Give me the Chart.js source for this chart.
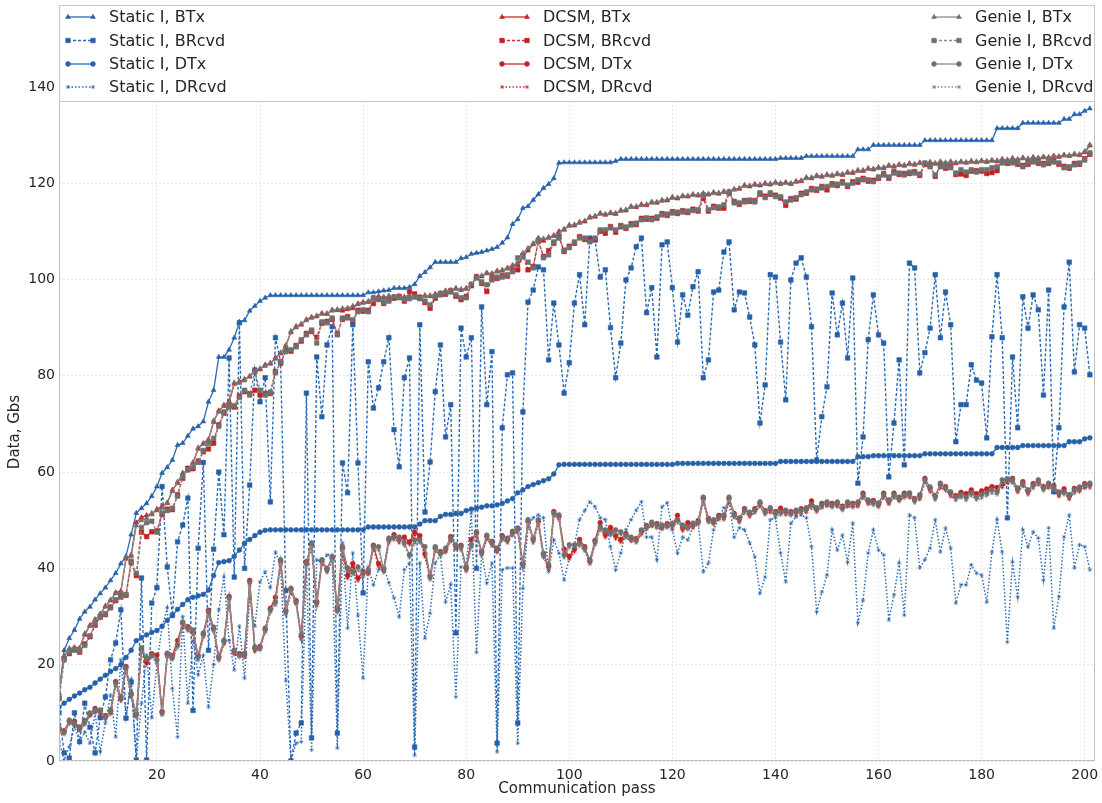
<!DOCTYPE html>
<html>
<head>
<meta charset="utf-8">
<title>Data per communication pass</title>
<script src="https://cdn.jsdelivr.net/npm/chart.js@4.4.0/dist/chart.umd.min.js"></script>
<style>
  html, body { margin: 0; padding: 0; background: #fff; }
  #wrap { width: 1102px; height: 803px; }
</style>
</head>
<body>
<div id="wrap"><canvas id="passChart" width="1102" height="803"></canvas></div>
<script>
// x: communication pass 1..201
const passes = Array.from({ length: 201 }, (_, i) => i + 1);
const xTickValues = [20, 40, 60, 80, 100, 120, 140, 160, 180, 200];
const yTickValues = [0, 20, 40, 60, 80, 100, 120, 140];

const groupNames = ["Static I", "DCSM", "Genie I"];
const kindNames = ["BTx", "BRcvd", "DTx", "DRcvd"];

// Static I
const staticBTx = [
  14, 23, 25.5, 27.2, 29.5, 31, 32, 33.5, 34.8, 36,
  37.5, 39, 41, 42.5, 47, 51.5, 52.5, 53.5, 55, 57,
  59.8, 61, 62.5, 65.6, 66, 67.5, 69, 69.5, 70.5, 74.6,
  77, 83.9, 83.9, 85.4, 87.9, 91.2, 91.5, 93.5, 94.5, 95.5,
  96.2, 96.7, 96.7, 96.7, 96.7, 96.7, 96.7, 96.7, 96.7, 96.7,
  96.7, 96.7, 96.7, 96.7, 96.7, 96.7, 96.7, 96.7, 96.7, 96.7,
  97.3, 97.3, 97.5, 97.7, 97.8, 98.2, 98.2, 98.2, 98.4, 99,
  100.7, 101.5, 102.5, 103.6, 103.6, 103.6, 103.6, 103.6, 104.4, 104.6,
  105.3, 105.5, 105.7, 106, 106.3, 106.7, 107.6, 108.7, 111.5, 112.5,
  114.8, 115.2, 116.5, 117.7, 119, 119.8, 121, 124.2, 124.3, 124.3,
  124.3, 124.3, 124.3, 124.3, 124.3, 124.3, 124.3, 124.3, 124.6, 125,
  125, 125, 125, 125, 125, 125, 125, 125, 125, 125,
  125, 125, 125, 125, 125, 125, 125, 125, 125, 125,
  125, 125, 125, 125, 125, 125, 125, 125, 125, 125,
  125.2, 125.2, 125.2, 125.2, 125.2, 125.6, 125.6, 125.6, 125.6, 125.6,
  125.6, 125.6, 125.6, 125.6, 125.6, 127, 127, 127, 127.9, 127.9,
  127.9, 127.9, 127.9, 127.9, 127.9, 127.9, 127.9, 127.9, 128.9, 128.9,
  128.9, 128.9, 128.9, 128.9, 128.9, 128.9, 128.9, 128.9, 128.9, 128.9,
  128.9, 128.9, 131.4, 131.4, 131.4, 131.4, 131.4, 132.5, 132.5, 132.5,
  132.5, 132.5, 132.5, 132.5, 132.5, 133.3, 133.3, 134.3, 134.3, 135,
  135.5
];
const staticBRcvd = [
  10, 1.7, 0.6, 10, 4, 12, 7, 1.7, 9, 13.3,
  21, 24.5, 31.4, 8.9, 16.4, 0.2, 38, 0.2, 32.8, 36,
  57, 40.3, 30.3, 45.5, 49, 54.6, 10.5, 44.2, 62, 23,
  44, 60, 47, 83.7, 38.2, 91, 40, 57.3, 81.2, 74.6,
  79.6, 53.8, 87.9, 82.9, 35.4, 0, 5.8, 7.9, 76.4, 4.8,
  83.9, 71.5, 86.4, 90.2, 5.8, 61.9, 55.7, 90.6, 61.9, 34.9,
  82.9, 73.3, 77.5, 82.9, 87.9, 68.8, 61.1, 79.6, 83.7, 2.9,
  90.6, 51.7, 62.1, 76.7, 86.4, 67.3, 74, 26.6, 89.9, 83.9,
  87.9, 40, 94.3, 74, 85, 3.7, 69.2, 80.2, 80.6, 7.9,
  72.5, 95.3, 97.8, 102.6, 102, 83.3, 95.1, 86.4, 76.4, 82.7,
  95.1, 101, 90.6, 108.6, 108.2, 100.5, 102, 90, 79.6, 86.8,
  99.9, 102.4, 106.8, 108.6, 93.1, 98.3, 83.9, 107.2, 107.8, 98.3,
  87, 96.8, 92.6, 98.5, 101.6, 79.6, 83.3, 97.4, 97.8, 105.7,
  107.8, 93.7, 97.4, 97.2, 92.2, 86.4, 70.2, 78.1, 101, 100.5,
  87, 75, 99.9, 103.4, 104.5, 100.5, 90.2, 62.5, 71.5, 77.7,
  97.2, 88.5, 95.1, 83.7, 100.3, 57.7, 67.3, 87.5, 96.8, 88.5,
  86.8, 59, 70.2, 83.3, 61.5, 103.4, 102.4, 80.6, 84.8, 89.9,
  101, 87.9, 97.4, 90.6, 66.3, 74, 74, 82.3, 79.1, 78.5,
  67.1, 88.1, 101, 87.9, 50.5, 83.9, 69.2, 96.4, 89.9, 96.8,
  93.7, 76, 97.8, 55.9, 69.2, 94.3, 103.6, 80.8, 90.6, 89.9,
  80.2
];
const staticDTx = [
  11.2, 12, 12.8, 13.5, 14.1, 14.8, 15.3, 16.2, 17, 17.8,
  18.6, 19.2, 20, 21.5, 23, 25, 25.6, 26.2, 26.7, 27.1,
  28, 29.2, 30.2, 31.5, 32.5, 33.5, 34, 34.3, 34.6, 35.5,
  38.5, 41.2, 41.4, 41.6, 42.5, 43.8, 45.2, 46, 46.8, 47.5,
  47.9, 48, 48, 48, 48, 48, 48, 48, 48, 48,
  48, 48, 48, 48, 48, 48, 48, 48, 48, 48,
  48.6, 48.6, 48.6, 48.6, 48.6, 48.6, 48.6, 48.6, 48.6, 48.6,
  49.2, 49.9, 49.9, 49.9, 50.8, 51.2, 51.2, 51.4, 51.4, 52,
  52.3, 52.5, 52.7, 53, 53, 53.2, 53.5, 54, 54.5, 55.7,
  56.3, 57, 57.4, 57.8, 58.2, 58.6, 59.6, 61.5, 61.6, 61.6,
  61.6, 61.6, 61.6, 61.6, 61.6, 61.6, 61.6, 61.6, 61.6, 61.6,
  61.6, 61.6, 61.6, 61.6, 61.6, 61.6, 61.6, 61.6, 61.6, 61.6,
  61.8, 61.8, 61.8, 61.8, 61.8, 61.8, 61.8, 61.8, 61.8, 61.8,
  61.8, 61.8, 61.8, 61.8, 61.8, 61.8, 61.8, 61.8, 61.8, 61.8,
  62.2, 62.2, 62.2, 62.2, 62.2, 62.2, 62.2, 62.2, 62.2, 62.2,
  62.2, 62.2, 62.2, 62.2, 62.2, 63.2, 63.2, 63.2, 63.4, 63.4,
  63.4, 63.4, 63.4, 63.4, 63.4, 63.4, 63.4, 63.4, 63.8, 63.8,
  63.8, 63.8, 63.8, 63.8, 63.8, 63.8, 63.8, 63.8, 63.8, 63.8,
  63.8, 63.8, 65.1, 65.1, 65.1, 65.1, 65.1, 65.5, 65.5, 65.5,
  65.5, 65.5, 65.5, 65.5, 65.5, 65.5, 66.3, 66.3, 66.3, 66.9,
  67.1
];
const staticDRcvd = [
  4, 0.2, 3, 7.1, 4, 6, 3.7, 10, 2, 7.9,
  13.7, 5, 21, 9.1, 17, 0.2, 12, 22, 9, 20.3,
  27.8, 31.8, 15, 5, 30, 12, 25, 18, 22, 11.2,
  20, 31.4, 38.2, 25, 18.9, 28, 17.2, 33.9, 28, 37.2,
  39.3, 36, 43.4, 40.7, 16.8, 0.2, 3.7, 4, 41.3, 2.3,
  41.8, 41.3, 42.8, 42.8, 2.7, 45.3, 27.6, 43.2, 30.3, 17.2,
  40.1, 36.6, 39.7, 40.3, 37, 33.9, 29.9, 39.7, 41.1, 1.2,
  41.1, 25.5, 30.7, 41.1, 42.8, 33, 36.6, 13.3, 40.3, 40.3,
  51.5, 22.6, 43.2, 37, 41.1, 1.9, 39.7, 40.1, 40.1, 3.7,
  35.9, 48.6, 50.5, 51.1, 50.5, 39.3, 45.9, 43.2, 37.6, 42.2,
  44.9, 50.1, 52, 53.8, 52.8, 50.5, 50.1, 44.5, 39.7, 43.2,
  48, 50.1, 52.1, 53.8, 46.5, 46.5, 41.8, 52.8, 53.6, 48,
  43.2, 46.5, 45.9, 48.6, 49.6, 39.3, 41.1, 48, 50.5, 52.6,
  53.6, 46.5, 48.4, 48, 45.3, 42.4, 34.9, 38.2, 50.1, 50.5,
  43.2, 37.2, 49.4, 50.7, 51.1, 50.5, 44.5, 31, 35.1, 38.6,
  48, 43.8, 46.9, 41.3, 49.4, 28.7, 33.4, 43.2, 48, 43.8,
  42.8, 29.3, 34.5, 41.1, 30.3, 51.1, 50.5, 40.1, 41.8, 44.2,
  50.1, 43.4, 48.4, 44.2, 32.8, 36.6, 36.6, 40.7, 39, 38.6,
  33, 43.4, 50.1, 43.4, 24.7, 41.3, 34.1, 48, 44.5, 47.6,
  46.3, 37.6, 48.4, 27.6, 34.1, 46.5, 51.1, 40.1, 44.9, 44.5,
  39.7
];

// DCSM
const dcsmBTx = [
  14, 21.8, 23.2, 23.6, 23.5, 26.2, 28.2, 29.4, 30.4, 32.2,
  33.3, 35, 35.3, 42, 42.8, 49.5, 50.6, 51, 51.2, 52.3,
  52.9, 53.5, 56.3, 57.7, 59.8, 60.3, 62, 64.8, 66, 66.8,
  70.4, 72.8, 73.7, 74.7, 78.3, 78.8, 79.3, 79.8, 81.2, 81.3,
  82.3, 82.5, 83.8, 84.6, 86.3, 89, 90.3, 90.6, 91.7, 92.2,
  92.3, 93, 92.8, 93.7, 93.6, 93.5, 93.8, 94, 95, 95.3,
  95.3, 96, 96.5, 96.2, 96.6, 96.3, 96.5, 96.3, 96.6, 96.4,
  96.3, 96.7, 96.5, 97, 97, 97.7, 97.6, 98.2, 97.8, 98.2,
  98.8, 100.5, 100.6, 101.4, 101.1, 101.8, 101.8, 102.4, 102.8, 103,
  104.8, 106, 107.3, 108.6, 108, 108.8, 109, 110, 110.3, 111.3,
  111.2, 111.9, 112, 113, 113, 113.8, 113.4, 113.9, 113.6, 114.4,
  114.3, 115.2, 115, 115.6, 115.4, 116.1, 115.9, 116.5, 116.4, 117.1,
  116.8, 117.4, 117.2, 117.7, 117.4, 117.9, 117.6, 118.1, 117.8, 118.3,
  118.1, 118.8, 118.8, 119.6, 119.3, 119.8, 119.5, 120, 119.7, 120.2,
  119.8, 120.2, 119.8, 120.4, 120.4, 121.2, 121, 121.6, 121.3, 121.8,
  121.5, 122, 121.7, 122.3, 122.1, 122.7, 122.5, 123.1, 122.8, 123.3,
  123.1, 123.7, 123.4, 123.9, 123.6, 124.1, 123.8, 124.3, 123.9, 124.4,
  124, 124.5, 124.1, 124.5, 124.1, 124.5, 124.2, 124.6, 124.3, 124.7,
  124.4, 124.8, 124.5, 125, 124.7, 125.2, 124.8, 125.3, 124.9, 125.4,
  125.1, 125.5, 125.2, 125.7, 125.4, 125.9, 125.6, 126.1, 125.8, 126.4,
  127.8
];
const dcsmBRcvd = [
  13, 21.3, 22.3, 23.2, 22.6, 24.3, 25.8, 28.2, 30, 30.4,
  32, 33.3, 34.3, 34.4, 41.2, 38.5, 47.5, 46.6, 47.6, 47.8,
  51.2, 52.3, 52.2, 55.3, 58.7, 60.8, 60.7, 62.3, 64.2, 64.8,
  66, 69.8, 72.2, 73.8, 73.5, 75.8, 76.7, 76.3, 77, 76,
  76.3, 76.3, 80.9, 82.6, 85.3, 85.1, 86.3, 87.2, 88.8, 89.2,
  88, 90.9, 91.3, 91.7, 88.8, 91.7, 92.3, 91.3, 93.6, 93.4,
  93.6, 95, 96.1, 95, 95.8, 96.1, 96.5, 95.5, 97.5, 97,
  96.3, 95.2, 94, 96.1, 97.1, 96.9, 97.7, 96.5, 95.8, 96.5,
  98.7, 100.6, 99.2, 97.5, 100.2, 100.2, 100.8, 100.7, 101.9, 102,
  105, 102, 102.7, 107.9, 104.8, 106, 107.5, 108.9, 105.8, 106.9,
  107.5, 108.9, 108.3, 108.1, 108.3, 110, 109.6, 111, 109.8, 111.2,
  110.6, 111.6, 111.4, 112.7, 112.5, 112.7, 112.7, 113.7, 113.3, 114.1,
  113.7, 114.3, 113.9, 114.6, 114.2, 116.8, 114.2, 115.2, 114.8, 114.8,
  117.9, 116.2, 115.6, 116.4, 116.2, 116.4, 117.7, 117.3, 117.7, 117.5,
  116.9, 115.4, 116.8, 116.7, 117.9, 117.9, 118.9, 118.5, 119.3, 118.6,
  119.9, 119.5, 120.3, 119.3, 120.3, 120.2, 121, 120.4, 120.6, 121,
  122, 121, 122.4, 121.8, 122, 122, 122.4, 121.6, 123.9, 123.7,
  121.4, 123.7, 123.1, 123.5, 121.8, 121.9, 121.6, 122.5, 122.6, 122.5,
  122, 122.2, 122.6, 124.5, 124.1, 124.5, 123.9, 123.7, 123.9, 124.7,
  124.1, 124.1, 124.1, 124.7, 123.9, 123.5, 123.1, 124.1, 123.9, 125.1,
  126
];
const dcsmDTx = [
  6.6, 6.3, 8.2, 8.2, 6.8, 8.4, 9.7, 10.9, 10.3, 9.4,
  10.3, 16.5, 13, 19.6, 13.8, 9.9, 23.2, 20.5, 22.3, 22,
  10.3, 22.1, 21.9, 25, 28.6, 27.9, 26.9, 21.9, 26.3, 31.3,
  27.5, 21.7, 24.8, 34.2, 22.7, 22.3, 22.1, 37.5, 23.4, 23.8,
  27.3, 31.7, 34, 41.5, 31.3, 35.6, 33.3, 25.9, 41.4, 45,
  33.1, 41.5, 40, 42.1, 31.7, 44.2, 38.5, 41, 38, 39.3,
  39.4, 44.8, 41, 40, 46, 47, 46, 46.5, 45.5, 47.5,
  46.8, 43, 38.5, 44.2, 43.5, 43.9, 46.6, 44.6, 44.8, 40,
  46, 47.3, 43.5, 46.6, 45.6, 43.9, 46.8, 46, 47.7, 48.1,
  41, 49.8, 46.2, 49.8, 43.1, 40.4, 51.8, 50.8, 44, 42.5,
  44, 46, 44.5, 41.5, 45.8, 49.5, 47, 48.5, 46.8, 46,
  47.2, 46.2, 46.2, 47.7, 48.9, 49.3, 49.3, 48.7, 49.3, 49.1,
  51, 48.4, 49.5, 49.1, 49.9, 54.5, 50.4, 49.8, 51, 50.8,
  54.5, 51.4, 50.2, 52.4, 51.4, 52.4, 53.5, 52, 52.3, 51.8,
  52.5, 51.8, 51.8, 51.8, 52.4, 52.3, 54, 52.3, 53.5, 53.5,
  53.5, 53.5, 52.9, 53.5, 53.5, 53.5, 55.6, 53.9, 54.1, 53.3,
  55.6, 53.9, 55.6, 54.5, 55.6, 55.4, 54.5, 55, 58.7, 56.6,
  55.1, 57.4, 57, 55.6, 55.1, 55.8, 55.5, 56.3, 55.5, 56.1,
  56.5, 57, 56.8, 57.5, 58.3, 58.7, 56.4, 58, 56, 57.6,
  58.1, 57, 57.4, 57.2, 55.6, 56.5, 55, 56.6, 56.6, 57.6,
  57.4
];
const dcsmDRcvd = [
  6, 5.8, 7.7, 7.7, 6.3, 7.8, 9.3, 10.4, 9.7, 8.9,
  9.7, 15.8, 12.5, 18.9, 13.2, 9.3, 22.5, 20, 21.8, 21.3,
  9.8, 21.5, 21.3, 24.4, 27.9, 27.3, 26.2, 21.3, 25.7, 30.6,
  26.9, 21.1, 24.2, 33.5, 22.1, 21.8, 21.5, 36.8, 22.7, 23.3,
  26.7, 31.1, 33.4, 40.7, 30.7, 34.9, 32.8, 25.3, 40.8, 44.3,
  32.5, 40.9, 39.4, 41.5, 31.1, 43.5, 37.9, 40.4, 37.4, 38.7,
  38.8, 44.2, 40.4, 39.4, 45.3, 46.4, 45.3, 45.9, 44.9, 46.9,
  46.1, 42.4, 37.9, 43.6, 42.9, 43.3, 45.9, 44, 44.2, 39.4,
  45.3, 46.6, 42.9, 46, 44.9, 43.3, 46.1, 45.3, 47.1, 47.5,
  40.4, 49.2, 45.6, 49.1, 42.5, 39.8, 51.1, 50.2, 43.4, 41.9,
  43.4, 45.3, 43.9, 40.9, 45.2, 48.8, 46.4, 47.9, 46.1, 45.4,
  46.6, 45.6, 45.6, 47, 48.3, 48.7, 48.6, 48.1, 48.7, 48.4,
  50.4, 47.8, 48.9, 48.4, 49.3, 53.8, 49.8, 49.1, 50.4, 50.1,
  53.8, 50.8, 49.5, 51.8, 50.7, 51.8, 52.8, 51.4, 51.6, 51.2,
  51.8, 51.1, 51.2, 51.1, 51.8, 51.6, 53.3, 51.7, 52.8, 52.9,
  52.8, 52.8, 52.3, 52.8, 52.9, 52.8, 54.9, 53.3, 53.4, 52.7,
  54.9, 53.3, 54.9, 53.9, 54.9, 54.7, 53.9, 54.3, 58, 55.9,
  54.5, 56.7, 56.4, 54.9, 54.5, 55.1, 54.9, 55.6, 54.9, 55.4,
  55.8, 56.4, 56.1, 56.8, 57.7, 58, 55.8, 57.3, 55.3, 57,
  57.4, 56.4, 56.7, 56.6, 54.9, 55.9, 54.3, 56, 55.9, 56.9,
  56.7
];

// Genie I
const genieBTx = [
  14, 21.6, 23.4, 23.4, 23.4, 26.5, 28, 29.2, 30.6, 32,
  33.5, 34.8, 35, 42.3, 42.5, 48.9, 50, 50.4, 51.5, 52,
  52.6, 53.7, 56, 58, 59.5, 60.5, 61.8, 65.1, 65.8, 66.5,
  70.7, 72.5, 74, 74.4, 78.6, 78.5, 79, 80, 81, 81.5,
  82, 82.7, 83.5, 84.8, 86, 89.3, 90, 90.8, 91.5, 92,
  92.5, 92.8, 93, 93.5, 93.8, 94, 94.1, 94.5, 94.8, 95.1,
  95.5, 96.2, 96.3, 96.4, 96.4, 96.4, 96.4, 96.4, 96.4, 96.2,
  96.4, 96.5, 96.7, 96.8, 97.2, 97.5, 97.8, 98, 98, 98,
  99, 100.3, 100.8, 101.2, 101.3, 101.6, 102, 102.2, 103, 103.4,
  105.5, 106.5, 107.5, 108.4, 108.5, 108.6, 109.2, 109.6, 110.5, 111.1,
  111.4, 111.7, 112.2, 112.8, 113.2, 113.6, 113.6, 113.7, 113.8, 114.2,
  114.5, 115, 115.2, 115.4, 115.6, 115.9, 116.1, 116.3, 116.6, 116.9,
  117, 117.2, 117.4, 117.5, 117.6, 117.7, 117.8, 117.9, 118, 118.1,
  118.3, 118.6, 119, 119.4, 119.5, 119.6, 119.7, 119.8, 119.9, 120,
  120, 120, 120, 120.2, 120.6, 121, 121.2, 121.4, 121.5, 121.6,
  121.7, 121.8, 121.9, 122.1, 122.3, 122.5, 122.7, 122.9, 123, 123.1,
  123.3, 123.5, 123.6, 123.7, 123.8, 123.9, 124, 124.1, 124.1, 124.2,
  124.2, 124.3, 124.3, 124.3, 124.3, 124.3, 124.4, 124.4, 124.5, 124.5,
  124.6, 124.6, 124.7, 124.8, 124.9, 125, 125, 125.1, 125.1, 125.2,
  125.3, 125.3, 125.4, 125.5, 125.6, 125.7, 125.8, 125.9, 126, 126.6,
  128
];
const genieBRcvd = [
  13, 21, 22.6, 23, 22.8, 24, 26, 28.5, 29.8, 30.6,
  31.8, 33.5, 34, 34.6, 41.5, 39, 48.5, 49.5, 49.8, 47.5,
  51.5, 52, 52.5, 55, 59, 60.5, 61, 62, 64.5, 66,
  67, 69.5, 72.5, 73.5, 73.8, 75.5, 77, 76, 80.8, 77,
  76, 76.6, 80.6, 82.9, 85, 85.4, 86, 87.5, 88.5, 89.5,
  86.8, 91.2, 91, 92, 88.5, 92, 92, 91.6, 93.3, 93.7,
  93.3, 96.2, 95.8, 95.3, 95.5, 96.4, 96.2, 95.8, 96, 96.4,
  96, 95.5, 94.7, 96.4, 96.8, 97.2, 97.4, 96.8, 96.2, 96.2,
  99, 100.3, 99.5, 98.9, 99.9, 100.5, 100.5, 101, 101.6, 104.5,
  104.7, 103.6, 102.4, 108.2, 104.5, 105.1, 107.8, 108.6, 106.1, 106.6,
  107.8, 108.6, 108.6, 107.8, 108.6, 110.3, 110.3, 110.7, 110.3, 110.9,
  110.9, 111.3, 111.7, 112.4, 112.8, 112.4, 113, 113.4, 113.6, 113.8,
  114, 114, 114.2, 114.3, 114.5, 117.6, 114.5, 114.9, 115.1, 115.5,
  118.2, 115.9, 115.9, 116.1, 116.5, 116.1, 118, 117, 118, 117.2,
  117.2, 116.1, 116.5, 117, 117.6, 118.2, 118.6, 118.8, 119, 119.3,
  119.6, 119.8, 120, 119.6, 120, 120.7, 120.7, 120.7, 120.3, 121.3,
  121.7, 121.3, 122.1, 122.1, 121.7, 122.3, 122.1, 121.9, 124.2, 123.4,
  121.7, 123.4, 123.4, 123.2, 122.1, 122.8, 122.3, 122.8, 122.3, 122.8,
  122.8, 123.2, 123.4, 124.2, 124.4, 124.2, 124.2, 123.4, 124.2, 124.4,
  124.4, 123.8, 124.4, 124.4, 124.2, 123.2, 123.4, 123.8, 124.2, 124.8,
  126.3
];
const genieDTx = [
  6.9, 6, 8.5, 7.9, 7.1, 8.1, 10, 10.6, 10.6, 9.1,
  10.6, 16.2, 13.3, 19.3, 14.1, 9.6, 23.5, 21.4, 22, 21,
  10, 22.4, 21.6, 24.1, 28.9, 27.6, 27.2, 21.6, 26.6, 31,
  27.8, 21.4, 25.1, 33.9, 23, 22, 22.4, 37.2, 23.7, 23.5,
  27.6, 31.4, 33, 41.8, 31, 35.9, 33, 26.2, 41.1, 45.3,
  32.8, 41.8, 39.7, 42.4, 31.4, 44.5, 40.1, 39.3, 40.3, 39,
  39.7, 44.5, 44.5, 39.7, 46.3, 46.5, 46.5, 45.3, 42.8, 45.9,
  45.9, 44.5, 38.2, 44.5, 43.2, 44.2, 46.3, 44.9, 44.5, 40.3,
  44.9, 47.6, 43.2, 46.9, 45.3, 44.2, 46.5, 46.3, 47.4, 48.4,
  40.7, 50.1, 45.9, 50.1, 42.8, 40.7, 51.5, 51.1, 42.8, 44.9,
  44.9, 45.3, 44.2, 41.8, 45.5, 48.6, 48, 47.4, 48, 47.6,
  46.9, 46.5, 45.9, 48, 48.6, 49.6, 49, 49, 49, 49.4,
  50.1, 49, 48.6, 49.4, 49.6, 54.8, 50.1, 50.1, 50.7, 51.1,
  54.8, 51.1, 50.5, 52.1, 51.7, 52.1, 53.8, 51.7, 52.6, 51.5,
  51.7, 52.1, 51.5, 52.1, 52.1, 52.6, 53.2, 52.6, 53.2, 53.8,
  53.2, 53.8, 52.6, 53.8, 53.2, 53.8, 55.3, 54.2, 53.8, 53.6,
  55.3, 54.2, 55.3, 54.8, 55.3, 55.7, 54.2, 55.3, 58.4, 56.9,
  54.8, 57.7, 56.7, 55.9, 54.8, 55.3, 54.8, 55.7, 54.8, 55.3,
  55.7, 56.3, 55.9, 58.4, 58.6, 58.4, 56.7, 57.7, 56.3, 57.3,
  58.4, 56.7, 57.7, 56.9, 55.9, 55.9, 55.3, 56.3, 56.9, 57.3,
  57.7
];
const genieDRcvd = [
  6.2, 5.5, 8, 7.4, 6.6, 7.5, 9.6, 10.1, 10, 8.6,
  10, 15.5, 12.8, 18.6, 13.5, 9, 22.8, 20.9, 21.5, 20.3,
  9.5, 21.8, 21, 23.5, 28.2, 27, 26.5, 21, 26, 30.3,
  27.2, 20.8, 24.5, 33.2, 22.4, 21.5, 21.8, 36.5, 23, 23,
  27, 30.8, 32.4, 41, 30.4, 35.2, 32.5, 25.6, 40.5, 44.6,
  32.2, 41.2, 39.1, 41.8, 30.8, 43.8, 39.5, 38.7, 39.6, 38.4,
  39.1, 43.9, 43.8, 39.1, 45.6, 45.9, 45.8, 44.7, 42.2, 45.2,
  45.3, 43.8, 37.6, 43.9, 42.6, 43.6, 45.6, 44.3, 43.8, 39.7,
  44.3, 46.9, 42.6, 46.3, 44.6, 43.6, 45.9, 45.6, 46.8, 47.8,
  40.1, 49.5, 45.3, 49.4, 42.2, 40.1, 50.8, 50.5, 42.2, 44.3,
  44.3, 44.6, 43.6, 41.2, 44.9, 47.9, 47.4, 46.8, 47.3, 47,
  46.3, 45.9, 45.3, 47.3, 48, 49, 48.3, 48.4, 48.4, 48.7,
  49.5, 48.4, 48, 48.7, 49, 54.1, 49.5, 49.4, 50.1, 50.4,
  54.1, 50.5, 49.8, 51.5, 51, 51.5, 53.1, 51.1, 51.9, 50.9,
  51.1, 51.4, 50.9, 51.5, 51.4, 52, 52.5, 52, 52.5, 53.2,
  52.6, 53.1, 52, 53.1, 52.6, 53.2, 54.6, 53.6, 53.1, 53,
  54.6, 53.6, 54.6, 54.2, 54.6, 55.1, 53.6, 54.6, 57.7, 56.3,
  54.2, 57, 56.1, 55.3, 54.1, 54.7, 54.1, 55.1, 54.2, 54.6,
  55.1, 55.6, 55.3, 57.7, 58, 57.7, 56.1, 57, 55.7, 56.6,
  57.7, 56.1, 57, 56.3, 55.2, 55.3, 54.7, 55.6, 56.3, 56.6,
  57.1
];

// styles, one per group and one per kind of series
const groupStyles = [
  { line: "#2a6bb5", marker: "#2660a8", order: 2 },
  { line: "#cf2a27", marker: "#c4201d", order: 1 },
  { line: "#8a8a8a", marker: "#6f6f6f", order: 0 }
];
const kindStyles = [
  { pointStyle: "triangle", radius: 2.8, dash: [], width: 1.3 },
  { pointStyle: "rect", radius: 3.2, dash: [3, 2], width: 1.4 },
  { pointStyle: "circle", radius: 2.4, dash: [], width: 1.3 },
  { pointStyle: "star", radius: 2.2, dash: [1.5, 2], width: 1.5 }
];
const seriesData = [
  [staticBTx, staticBRcvd, staticDTx, staticDRcvd],
  [dcsmBTx, dcsmBRcvd, dcsmDTx, dcsmDRcvd],
  [genieBTx, genieBRcvd, genieDTx, genieDRcvd]
];

const datasets = [];
groupNames.forEach((g, gi) => {
  kindNames.forEach((k, ki) => {
    const gs = groupStyles[gi];
    const ks = kindStyles[ki];
    datasets.push({
      label: g + ", " + k,
      data: seriesData[gi][ki],
      borderColor: gs.line,
      backgroundColor: gs.marker,
      borderWidth: ks.width,
      borderDash: ks.dash,
      pointStyle: ks.pointStyle,
      pointRadius: ks.radius,
      pointBackgroundColor: gs.marker,
      pointBorderColor: gs.marker,
      pointBorderWidth: 0.6,
      tension: 0,
      fill: false,
      order: gs.order
    });
  });
});

const textColor = "#262626";
const fontFamily = "'DejaVu Sans', sans-serif";

// frame, legend box inside the top of the plot, y title
const legendBox = {
  id: "legendBox",
  afterDraw(chart) {
    const { ctx, chartArea } = chart;
    const left = chartArea.left, right = chartArea.right;
    const top = chartArea.top, boxBottom = 101;
    ctx.save();
    ctx.setLineDash([]);
    ctx.strokeStyle = "#bdbdbd";
    ctx.lineWidth = 1;
    ctx.strokeRect(left + 0.5, top + 0.5, right - left - 1, chartArea.bottom - top - 1);

    ctx.fillStyle = "#ffffff";
    ctx.fillRect(left, top, right - left, boxBottom - top);
    ctx.strokeStyle = "#c8c8c8";
    ctx.strokeRect(left + 0.5, top + 0.5, right - left - 1, boxBottom - top);

    const colX = [68, 502, 934];
    const rowY = [17, 40.5, 64, 87];
    ctx.font = "16px " + fontFamily;
    ctx.textBaseline = "middle";
    ctx.textAlign = "left";
    chart.data.datasets.forEach((ds, i) => {
      const gi = Math.floor(i / 4), ki = i % 4;
      const x0 = colX[gi], x1 = x0 + 25, y = rowY[ki];
      ctx.strokeStyle = ds.borderColor;
      ctx.lineWidth = ds.borderWidth;
      ctx.setLineDash(ds.borderDash);
      ctx.beginPath();
      ctx.moveTo(x0, y);
      ctx.lineTo(x1, y);
      ctx.stroke();
      ctx.setLineDash([]);
      ctx.fillStyle = ds.pointBackgroundColor;
      ctx.strokeStyle = ds.pointBorderColor;
      ctx.lineWidth = 0.6;
      [x0, x1].forEach(px => {
        Chart.helpers.drawPoint(ctx, { pointStyle: ds.pointStyle, radius: ds.pointRadius, rotation: 0, borderWidth: 0.6 }, px, y);
      });
      ctx.fillStyle = textColor;
      ctx.fillText(ds.label, x1 + 16, y + 1);
    });

    ctx.translate(15, 432);
    ctx.rotate(-Math.PI / 2);
    ctx.textAlign = "center";
    ctx.font = "15px " + fontFamily;
    ctx.fillStyle = textColor;
    ctx.fillText("Data, Gbs", 0, 0);
    ctx.restore();
  }
};

new Chart(document.getElementById("passChart").getContext("2d"), {
  type: "line",
  data: { labels: passes, datasets: datasets },
  options: {
    responsive: false,
    animation: false,
    events: [],
    layout: { padding: { top: 5, right: 7, bottom: 0, left: 0 } },
    plugins: { legend: { display: false }, tooltip: { enabled: false } },
    scales: {
      x: {
        type: "linear",
        min: 1,
        max: 202,
        afterBuildTicks: (scale) => { scale.ticks = xTickValues.map(v => ({ value: v })); },
        afterFit: (scale) => { scale.height = 42; scale.paddingLeft = 0; scale.paddingRight = 0; },
        ticks: { color: textColor, font: { family: fontFamily, size: 14 }, padding: 6, maxRotation: 0 },
        grid: { color: "#e6e6e6", lineWidth: 1, drawTicks: false },
        border: { display: false, dash: [2, 2] },
        title: { display: true, text: "Communication pass", color: textColor,
                 font: { family: fontFamily, size: 15 }, padding: { top: 0, bottom: 5 } }
      },
      y: {
        min: 0,
        max: 157,
        afterBuildTicks: (scale) => { scale.ticks = yTickValues.map(v => ({ value: v })); },
        afterFit: (scale) => { scale.width = 59; scale.paddingTop = 0; scale.paddingBottom = 0; },
        ticks: { color: textColor, font: { family: fontFamily, size: 14 }, padding: 4 },
        grid: { color: "#e6e6e6", lineWidth: 1, drawTicks: false },
        border: { display: false, dash: [2, 2] }
      }
    }
  },
  plugins: [legendBox]
});
</script>
</body>
</html>
